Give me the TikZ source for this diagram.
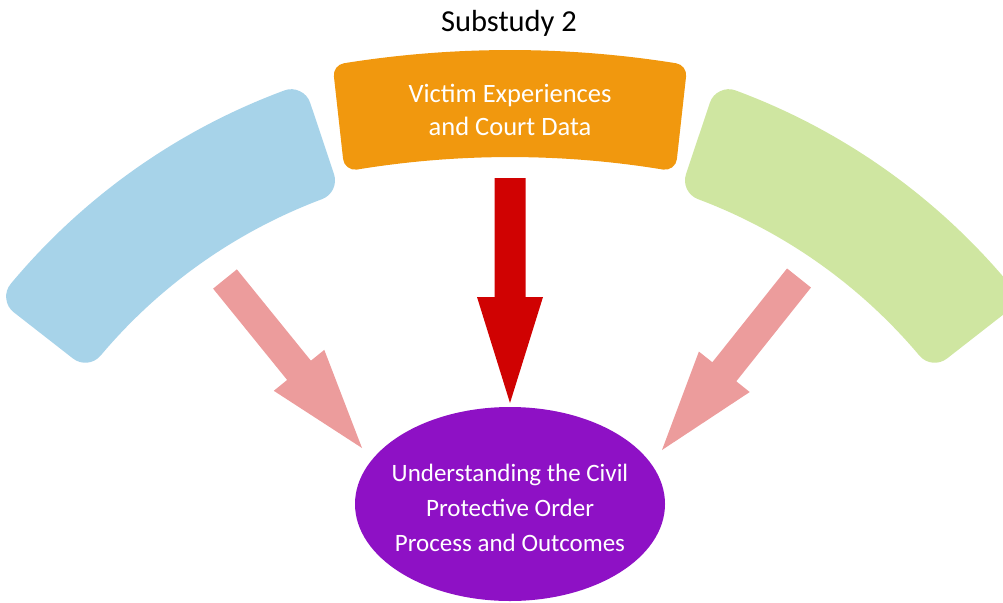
\documentclass[tikz,border=0pt]{standalone}
\usepackage{fontspec}
\setmainfont{Carlito}
\usetikzlibrary{calc,shapes.geometric}
\definecolor{arcblue}{RGB}{167,211,233}
\definecolor{arcorange}{RGB}{241,152,14}
\definecolor{arcgreen}{RGB}{207,230,161}
\definecolor{pinkarrow}{RGB}{236,156,156}
\definecolor{redarrow}{RGB}{208,2,2}
\definecolor{goalpurple}{RGB}{142,17,197}
% #1 colour, #2 tail, #3 tip, #4 shaft half width, #5 head half width, #6 head length
\newcommand\blkarrow[6]{%
  \path ($(#3)!#6!(#2)$) coordinate (hb);
  \fill[#1] ($(#2)!#4!90:(#3)$) -- ($(hb)!#4!90:(#3)$) -- ($(hb)!#5!90:(#3)$) -- (#3)
    -- ($(hb)!#5!-90:(#3)$) -- ($(hb)!#4!-90:(#3)$) -- ($(#2)!#4!-90:(#3)$) -- cycle;
}
\tikzset{
  segment/.style={fill=#1, draw=#1, line join=round},
  whitetext/.style={text=white, align=center, inner sep=0pt},
}
\begin{document}
\begin{tikzpicture}[x=1pt,y=-1pt]
\useasboundingbox (0,0) rectangle (1003,602);
\coordinate (C) at (510,700);
\coordinate (O) at (510,1100);
% blue segment
\path[segment=arcblue, line width=40pt]
  ($(C)+(-110.32:630)$) arc[start angle=-110.32, end angle=-140.18, radius=630]
  -- ($(C)+(-139.93:555)$) arc[start angle=-139.93, end angle=-110.57, radius=555] -- cycle;
% green segment
\path[segment=arcgreen, line width=40pt]
  ($(C)+(-69.68:630)$) arc[start angle=-69.68, end angle=-39.82, radius=630]
  -- ($(C)+(-40.07:555)$) arc[start angle=-40.07, end angle=-69.43, radius=555] -- cycle;
% orange segment
\path[segment=arcorange, line width=24pt]
  ($(O)+(-99.1:1038)$) arc[start angle=-99.1, end angle=-80.9, radius=1038]
  -- ($(O)+(-80.66:955)$) arc[start angle=-80.66, end angle=-99.34, radius=955] -- cycle;
\node[whitetext, font=\fontsize{26.5}{33}\selectfont] (src) at (510,110) {Victim Experiences\\and Court Data};
% title
\node[anchor=base, inner sep=0pt, font=\fontsize{30.5}{34}\selectfont] (title) at (509,31.7) {Substudy 2};
% goal ellipse
\node[ellipse, fill=goalpurple, minimum width=310pt, minimum height=194pt, inner sep=0pt] (goal) at (510,504) {};
\node[whitetext, font=\fontsize{25}{35}\selectfont] (goaltext) at (510,508) {Understanding the Civil\\Protective Order\\Process and Outcomes};
% arrows
\coordinate (redtail) at (510,178);
\coordinate (redtip) at (510,403);
\coordinate (ltail) at (225,279);
\coordinate (ltip) at (362,448);
\coordinate (rtail) at (799,278);
\coordinate (rtip) at (662,450);
\blkarrow{redarrow}{redtail}{redtip}{15.5pt}{33pt}{106pt}
\blkarrow{pinkarrow}{ltail}{ltip}{15.3pt}{32.5pt}{100pt}
\blkarrow{pinkarrow}{rtail}{rtip}{15.3pt}{32.5pt}{100pt}
\end{tikzpicture}
\end{document}
